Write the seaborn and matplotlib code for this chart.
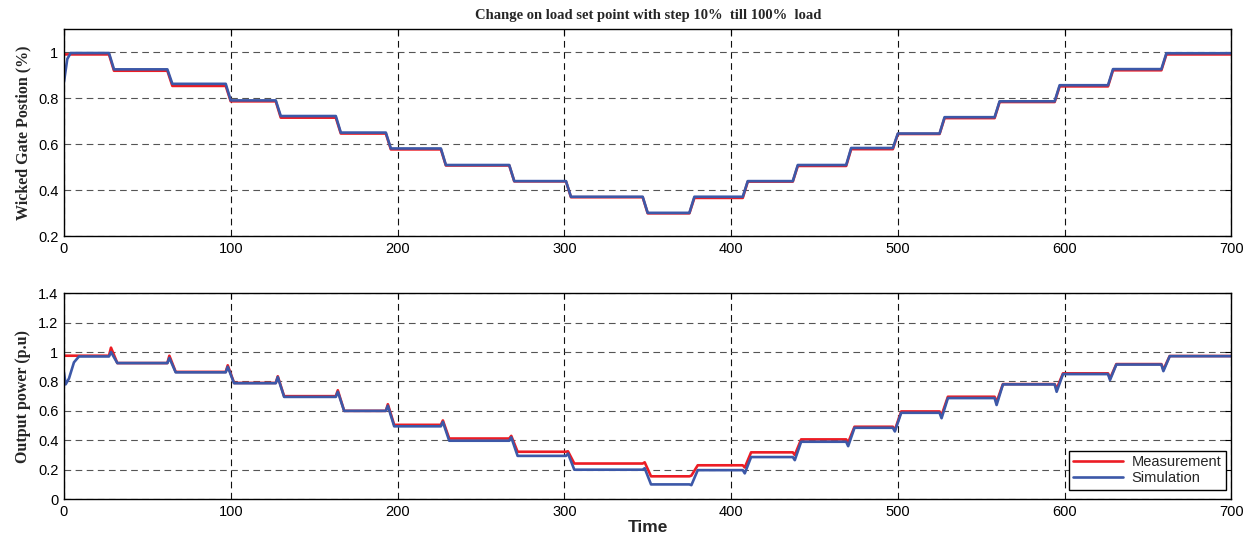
import matplotlib
matplotlib.use("Agg")
import matplotlib.pyplot as plt
import seaborn as sns
import pandas as pd

# ---------------- data ----------------
step_times = [27, 62, 97, 127, 163, 193, 226, 267, 301, 347, 375,
              407, 437, 469, 497, 525, 558, 594, 626, 658]
t_end = 700

# Wicket gate position levels between steps
gate_meas_levels = [0.990, 0.919, 0.853, 0.786, 0.715, 0.646, 0.577, 0.507, 0.438, 0.369, 0.299,
                    0.366, 0.437, 0.505, 0.578, 0.644, 0.713, 0.783, 0.851, 0.921, 0.990]
gate_sim_levels = [0.996, 0.925, 0.862, 0.790, 0.722, 0.650, 0.581, 0.509, 0.439, 0.371, 0.301,
                   0.371, 0.439, 0.509, 0.583, 0.646, 0.717, 0.786, 0.856, 0.926, 0.995]
gate_sim_start_t = [0, 2, 4]
gate_sim_start_v = [0.87, 0.97, 0.996]

# Output power levels between steps and transient peaks at each step
power_meas_levels = [0.975, 0.925, 0.865, 0.790, 0.700, 0.600, 0.505, 0.412, 0.322, 0.242, 0.155,
                     0.230, 0.318, 0.406, 0.492, 0.596, 0.696, 0.782, 0.855, 0.918, 0.973]
power_meas_peaks = [1.03, 0.975, 0.91, 0.835, 0.74, 0.645, 0.535, 0.43, 0.325, 0.25, 0.16,
                    0.215, 0.30, 0.385, 0.47, 0.57, 0.66, 0.75, 0.82, 0.88]
power_sim_levels = [0.970, 0.925, 0.862, 0.788, 0.695, 0.600, 0.495, 0.397, 0.294, 0.200, 0.100,
                    0.197, 0.286, 0.390, 0.485, 0.587, 0.687, 0.780, 0.850, 0.915, 0.972]
power_sim_peaks = [1.00, 0.96, 0.90, 0.83, 0.73, 0.635, 0.525, 0.42, 0.31, 0.21, 0.095,
                   0.175, 0.265, 0.36, 0.46, 0.55, 0.64, 0.73, 0.81, 0.87]
power_sim_start_t = [0, 1, 3, 6, 9]
power_sim_start_v = [0.86, 0.78, 0.82, 0.93, 0.97]

x_ticks = [0, 100, 200, 300, 400, 500, 600, 700]
gate_ticks = [0.2, 0.4, 0.6, 0.8, 1.0]
power_ticks = [0, 0.2, 0.4, 0.6, 0.8, 1.0, 1.2, 1.4]

title_text = "Change on load set point with step 10%  till 100%  load"
gate_label = "Wicked Gate Postion (%)"
power_label = "Output power (p.u)"
x_label = "Time"
series_names = ["Measurement", "Simulation"]
colors = {"Measurement": "#ec1c24", "Simulation": "#3c58a8"}


def steps_path(levels, start_t=None, start_v=None, peaks=None, ramp=3):
    if start_t is None:
        ts, vs = [0], [levels[0]]
    else:
        ts, vs = list(start_t), list(start_v)
    for i, st in enumerate(step_times):
        ts.append(st); vs.append(levels[i])
        if peaks is not None:
            ts.append(st + 1.2); vs.append(peaks[i])
            ts.append(st + 5); vs.append(levels[i + 1])
        else:
            ts.append(st + ramp); vs.append(levels[i + 1])
    ts.append(t_end); vs.append(levels[-1])
    return ts, vs


def frame(name, ts, vs):
    return pd.DataFrame({"t": ts, "v": vs, "series": name})


gm = frame("Measurement", *steps_path(gate_meas_levels))
gs = frame("Simulation", *steps_path(gate_sim_levels, gate_sim_start_t, gate_sim_start_v))
pm = frame("Measurement", *steps_path(power_meas_levels, peaks=power_meas_peaks))
ps = frame("Simulation", *steps_path(power_sim_levels, power_sim_start_t, power_sim_start_v,
                                     peaks=power_sim_peaks))
gate_df = pd.concat([gm, gs], ignore_index=True)
power_df = pd.concat([pm, ps], ignore_index=True)

# ---------------- drawing ----------------
sns.set_style("white")
plt.rcParams["font.family"] = ["Liberation Sans", "DejaVu Sans"]

fig = plt.figure(figsize=(12.54, 5.39), dpi=100)
ax1 = fig.add_axes([0.051, 0.562, 0.931, 0.384])
ax2 = fig.add_axes([0.051, 0.074, 0.931, 0.382])

for ax, df in ((ax1, gate_df), (ax2, power_df)):
    sns.lineplot(data=df, x="t", y="v", hue="series", hue_order=series_names,
                 palette=colors, estimator=None, sort=False, linewidth=1.9,
                 ax=ax, legend=(ax is ax2))

serif_bold = dict(family=["Liberation Serif", "DejaVu Serif"], weight="bold")

for ax in (ax1, ax2):
    ax.set_xlim(0, 700)
    ax.set_xticks(x_ticks)
    ax.set_xticklabels([str(v) for v in x_ticks])
    ax.set_axisbelow(True)
    ax.xaxis.grid(True, color="#111111", linestyle=(0, (6, 4)), linewidth=0.8)
    ax.yaxis.grid(True, color="#555555", linestyle=(0, (6, 4)), linewidth=0.8)
    ax.tick_params(direction="in", top=True, right=True, length=4, width=0.8,
                   labelsize=10.5, pad=4, colors="black")
    for s in ax.spines.values():
        s.set_visible(True)
        s.set_color("black")
        s.set_linewidth(1.0)
    ax.set_xlabel("")

ax1.set_ylim(0.2, 1.1)
ax1.set_yticks(gate_ticks)
ax1.set_yticklabels(["0.2", "0.4", "0.6", "0.8", "1"])
ax1.set_ylabel(gate_label, fontsize=11.5, labelpad=5, **serif_bold)
ax1.set_title(title_text, fontsize=10.5, pad=7, **serif_bold)

ax2.set_ylim(0, 1.4)
ax2.set_yticks(power_ticks)
ax2.set_yticklabels(["0", "0.2", "0.4", "0.6", "0.8", "1", "1.2", "1.4"])
ax2.set_ylabel(power_label, fontsize=11.5, labelpad=5, **serif_bold)
ax2.set_xlabel(x_label, fontsize=12.5, fontweight="bold", labelpad=1)

leg = ax2.legend(loc="lower right", bbox_to_anchor=(0.995, 0.045), frameon=True,
                 fancybox=False, edgecolor="black", fontsize=10.5, handlelength=3.4,
                 borderpad=0.3, labelspacing=0.15, handletextpad=0.6, borderaxespad=0)
leg.get_frame().set_linewidth(1.0)
leg.get_frame().set_alpha(1)

fig.savefig("out.png", dpi=100)
